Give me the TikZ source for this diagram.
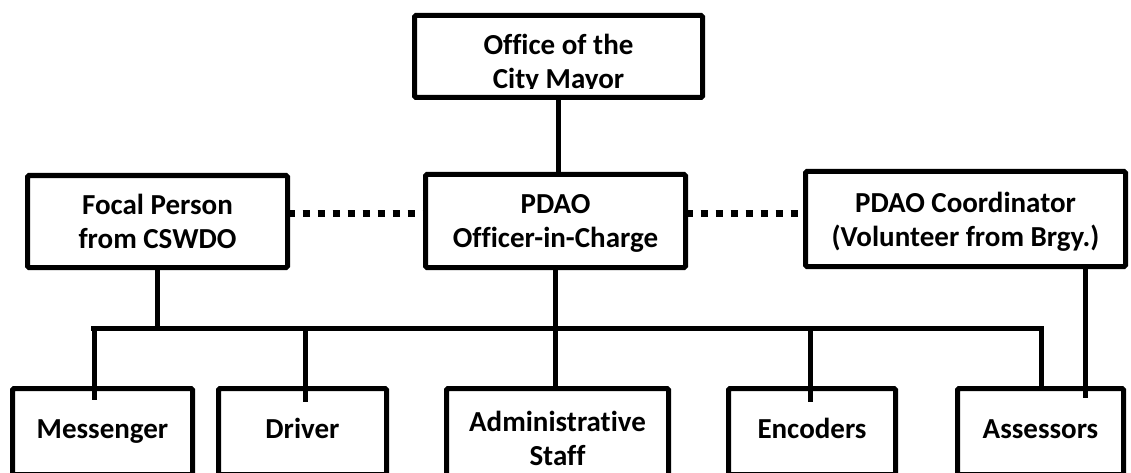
\documentclass[tikz,border=0pt]{standalone}
\usepackage{fontspec}
\setmainfont{Carlito}[Ligatures=NoCommon]
\usetikzlibrary{shadows}
\begin{document}
\begin{tikzpicture}[x=1pt,y=-1pt,
  box/.style={draw=black, line width=5pt, fill=white, rounded corners=1.5pt,
    inner sep=0pt, outer sep=0pt, align=center,
    drop shadow={shadow xshift=1.5pt, shadow yshift=-1.5pt, opacity=0.25, fill=gray},
    font=\fontsize{29}{34}\selectfont\bfseries},
  twoline/.style={text depth=0pt},
  oneline/.style={text height=20pt, text depth=7pt},
  label/.style={inner sep=0pt, align=center, text depth=0pt,
    font=\fontsize{29}{34}\selectfont\bfseries},
  link/.style={draw=black, line width=5pt},
  dotlink/.style={draw=black, line width=7pt, dash pattern=on 7pt off 8pt}]
\useasboundingbox (0,0) rectangle (1131,473);
\clip (0,0) rectangle (1131,473);

% top office
\node[box, minimum width=288pt, minimum height=82pt] (mayor) at (558.5,56.5) {};
\begin{scope}
  \clip (416,16) rectangle (701,88.5);
  \node[label] (mayortext) at (558.5,61.5) {Office of the\\City Mayor};
\end{scope}

% second tier
\node[box, twoline, minimum width=260pt, minimum height=92pt] (focal) at (157.5,221.5) {Focal Person\\from CSWDO};
\node[box, twoline, minimum width=260pt, minimum height=93pt] (pdao) at (555.5,221) {PDAO\\Officer-in-Charge};
\node[box, twoline, minimum width=320pt, minimum height=95pt] (coord) at (965.5,219) {PDAO Coordinator\\(Volunteer from Brgy.)};

% staff row (bottom edges run past the lower border)
\node[box, oneline, minimum width=180pt, minimum height=86pt] (messenger) at (102.5,431.5) {Messenger};
\node[box, oneline, minimum width=168pt, minimum height=86pt] (driver) at (302.5,431.5) {Driver};
\node[box, twoline, minimum width=222pt, minimum height=99pt] (admin) at (557.5,438) {Administrative\\Staff};
\node[box, oneline, minimum width=167pt, minimum height=86pt] (encoders) at (812,431.5) {Encoders};
\node[box, oneline, minimum width=166pt, minimum height=86pt] (assessors) at (1040.5,431.5) {Assessors};

% bus line and drop ends
\coordinate (busL) at (91,328);
\coordinate (busR) at (1041,328);
\coordinate (msgEnd) at (94,400);
\coordinate (drvEnd) at (305,402);
\coordinate (encEnd) at (810,402);
\coordinate (assEnd) at (1041,388);
\coordinate (crdEnd) at (1085,398);

% solid reporting lines
\draw[link] (mayor.south) -- (pdao.north -| mayor.south);
\draw[link] (focal.south) -- (focal.south |- busL);
\draw[link] (pdao.south) -- (admin.north -| pdao.south);
\draw[link] (busL) -- (busR) -- (assEnd);
\draw[link] (msgEnd |- busL) -- (msgEnd);
\draw[link] (drvEnd |- busL) -- (drvEnd);
\draw[link] (encEnd |- busL) -- (encEnd);
\draw[link] (crdEnd |- coord.south) -- (crdEnd);

% dotted coordination lines
\draw[dotlink] (focal.east |- 0,213) -- (pdao.west |- 0,213);
\draw[dotlink] (pdao.east |- 0,213) -- (coord.west |- 0,213);
\end{tikzpicture}
\end{document}
